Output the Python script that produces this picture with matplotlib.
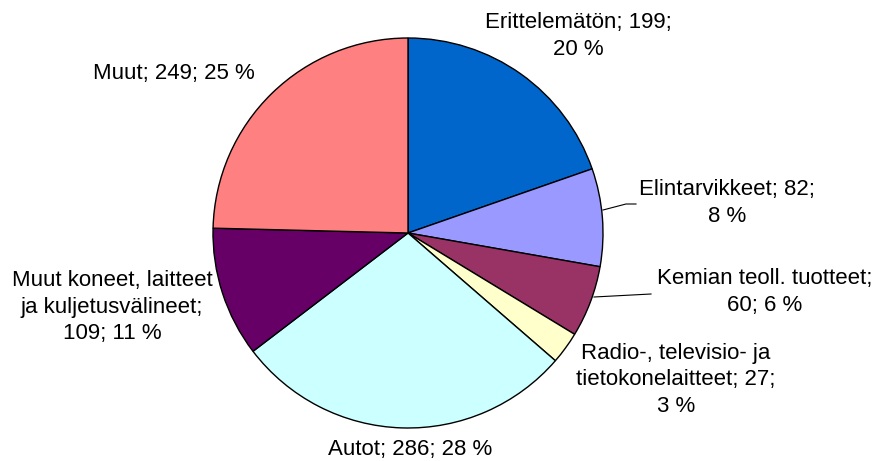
import matplotlib
matplotlib.use("Agg")
import matplotlib.pyplot as plt

categories = [
    "Erittelemätön",
    "Elintarvikkeet",
    "Kemian teoll. tuotteet",
    "Radio-, televisio- ja tietokonelaitteet",
    "Autot",
    "Muut koneet, laitteet ja kuljetusvälineet",
    "Muut",
]
values = [199, 82, 60, 27, 286, 109, 249]
percents = [20, 8, 6, 3, 28, 11, 25]
colors = ["#0066CC", "#9999FF", "#993366", "#FFFFCC", "#CCFFFF", "#660066", "#FF8080"]

W, H = 877, 461
fig = plt.figure(figsize=(W / 100, H / 100), dpi=100)
ax = fig.add_axes([0, 0, 1, 1])

cx, cy, r = 408, H - 233, 195
ax.pie(values, colors=colors, startangle=90, counterclock=False,
       center=(cx, cy), radius=r, frame=True,
       wedgeprops=dict(edgecolor="black", linewidth=1.0))
ax.set_xlim(0, W)
ax.set_ylim(0, H)
ax.set_aspect("equal")
ax.axis("off")

font = dict(family="Liberation Sans", fontsize=16, color="black",
            ha="center", va="center", linespacing=1.32)

labels = [
    ("Erittelemätön; {v};\n{p} %", 578, 36),
    ("Elintarvikkeet; {v};\n{p} %", 727, 203),
    ("Kemian teoll. tuotteet;\n{v}; {p} %", 765, 292),
    ("Radio-, televisio- ja\ntietokonelaitteet; {v};\n{p} %", 676, 380),
    ("Autot; {v}; {p} %", 410, 449),
    ("Muut koneet, laitteet\nja kuljetusvälineet;\n{v}; {p} %", 112, 307),
    ("Muut; {v}; {p} %", 174, 73),
]
for (fmt, x, y), v, p in zip(labels, values, percents):
    ax.text(x, H - y, fmt.format(v=v, p=p), **font)

# leader lines
ax.plot([603, 626, 636], [H - 210, H - 204, H - 204], color="black", lw=0.8)
ax.plot([594, 651], [H - 297, H - 294], color="black", lw=0.8)

fig.savefig("out.png", dpi=100)
